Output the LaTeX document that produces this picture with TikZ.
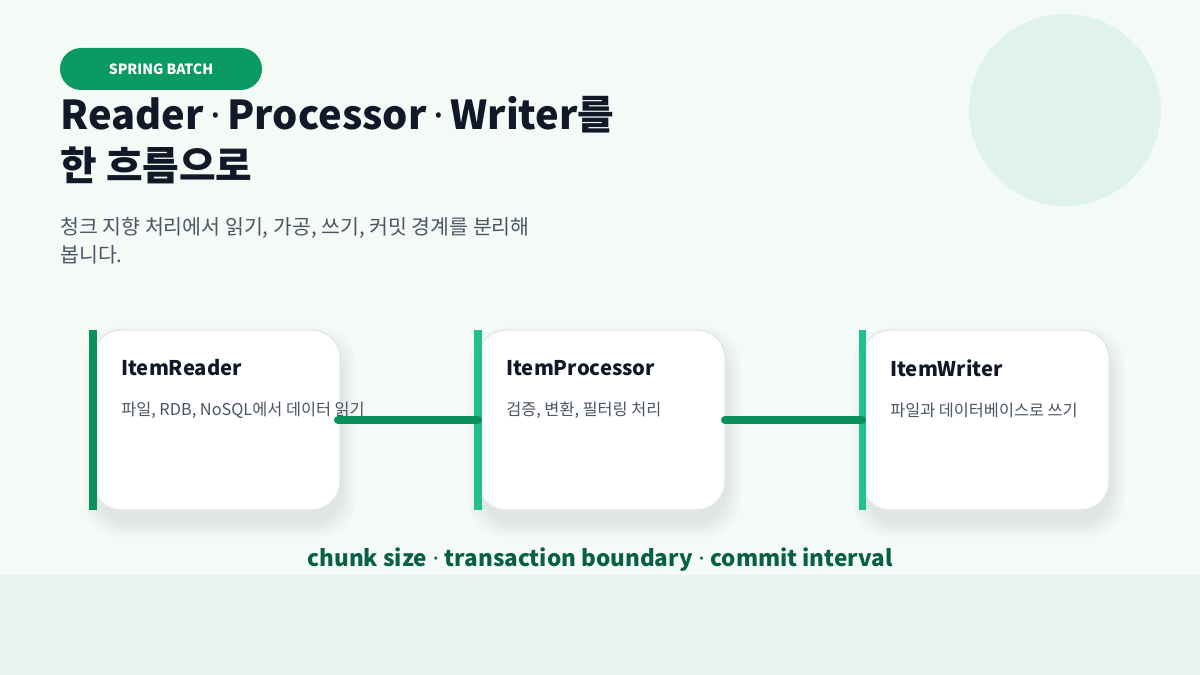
\documentclass[tikz,border=0pt]{standalone}
\usepackage{fontspec}
\setmainfont{Noto Sans CJK KR}
\newfontfamily\latin{Noto Sans}
\usetikzlibrary{positioning}
\definecolor{bgtop}{HTML}{F4FBF7}
\definecolor{band}{HTML}{E7F5EE}
\definecolor{blob}{HTML}{E0F3EA}
\definecolor{pill}{HTML}{0B9A63}
\definecolor{ink}{HTML}{111827}
\definecolor{muted}{HTML}{4B5563}
\definecolor{bardark}{HTML}{0A8F5E}
\definecolor{barlight}{HTML}{22C08A}
\definecolor{foot}{HTML}{065F46}
\definecolor{edge}{HTML}{E3E7EB}
\newcommand{\dotsep}{{\latin\,·\,}}
\newcommand{\widesep}{{\latin\ ·\ }}
\tikzset{
  cardbox/.style={draw=edge, line width=1pt, fill=white, rounded corners=20pt},
  cardshade/.style={fill=black, opacity=0.015, rounded corners=26pt},
  cardtitle/.style={anchor=west, font=\fontsize{14.4}{17}\selectfont\bfseries, text=ink, inner sep=0},
  carddesc/.style={anchor=west, font=\fontsize{11.6}{13}\selectfont, text=muted, inner sep=0},
  link/.style={draw=bardark, line width=5.7pt, line cap=round},
}
\begin{document}
\begin{tikzpicture}[x=0.025cm,y=-0.025cm]
\useasboundingbox (0,0) rectangle (1200,675);
% background
\fill[bgtop] (0,0) rectangle (1200,675);
\fill[band] (0,575) rectangle (1200,675);
\fill[blob] (1065,110) circle (96);
% header
\fill[pill, rounded corners=15pt] (60,48) rectangle (262,90);
\node[text=white, font=\fontsize{10}{12}\selectfont\bfseries, inner sep=0] (tag) at (161,69) {SPRING BATCH};
\node[anchor=north west, inner sep=0, align=left, text=ink,
  font=\fontsize{28.3}{36}\selectfont\bfseries] (title) at (60,96) {Reader\dotsep Processor\dotsep Writer를\\한 흐름으로};
\node[anchor=north west, inner sep=0, align=left, text=muted,
  font=\fontsize{14.6}{19.8}\selectfont] (sub) at (60,217) {청크 지향 처리에서 읽기, 가공, 쓰기, 커밋 경계를 분리해\\봅니다.};
% cards
\foreach \x/\c in {93/bardark, 478/barlight, 862/barlight}{
  \foreach \s in {3,6,9,12,15}
    \fill[cardshade] (\x+6-\s,330+12-\s) rectangle (\x+247+\s,510+12+\s);
  \draw[cardbox] (\x,330) rectangle (\x+247,510);
  \draw[\c, line width=5pt] (\x,330) -- (\x,510);
}
\coordinate (readerE) at (338,420);
\coordinate (procW) at (478,420);
\coordinate (procE) at (725,420);
\coordinate (writerW) at (862,420);
\node[cardtitle] (rt) at (121,368) {ItemReader};
\node[carddesc] (rd) at (121,410) {파일, RDB, NoSQL에서 데이터 읽기};
\node[cardtitle] (pt) at (506,368) {ItemProcessor};
\node[carddesc] (pd) at (506,410) {검증, 변환, 필터링 처리};
\node[cardtitle] (wt) at (890,368) {ItemWriter};
\node[carddesc] (wd) at (890,410) {파일과 데이터베이스로 쓰기};
% links
\draw[link] (readerE) -- (procW);
\draw[link] (procE) -- (writerW);
% footer
\node[text=foot, font=\fontsize{16}{18}\selectfont\bfseries, inner sep=0] (foot) at (600,560)
  {chunk size\widesep transaction boundary\widesep commit interval};
\end{tikzpicture}
\end{document}
